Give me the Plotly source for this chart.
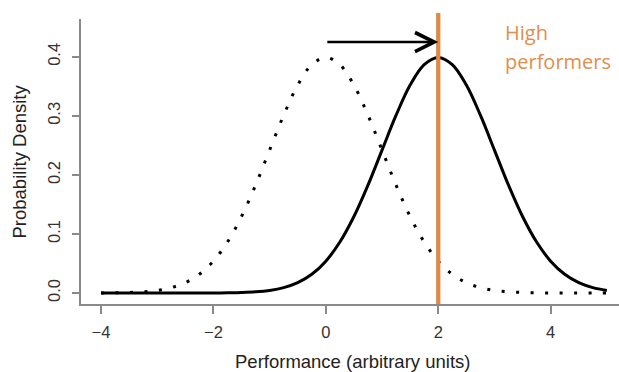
import plotly.graph_objects as go

# ---- data ----
x_vals = [-4, -3.75, -3.5, -3.25, -3, -2.75, -2.5, -2.25, -2, -1.75, -1.5, -1.25, -1,
          -0.75, -0.5, -0.25, 0, 0.25, 0.5, 0.75, 1, 1.25, 1.5, 1.75, 2, 2.25, 2.5,
          2.75, 3, 3.25, 3.5, 3.75, 4, 4.25, 4.5, 4.75, 5]
baseline_density = [0.0001, 0.0004, 0.0009, 0.0020, 0.0044, 0.0091, 0.0175, 0.0317,
                     0.0540, 0.0863, 0.1295, 0.1826, 0.2420, 0.3011, 0.3521, 0.3867,
                     0.3989, 0.3867, 0.3521, 0.3011, 0.2420, 0.1826, 0.1295, 0.0863,
                     0.0540, 0.0317, 0.0175, 0.0091, 0.0044, 0.0020, 0.0009, 0.0004,
                     0.0001, 0.0000, 0.0000, 0.0000, 0.0000]
shifted_density = [0.0000, 0.0000, 0.0000, 0.0000, 0.0000, 0.0000, 0.0000, 0.0000,
                   0.0001, 0.0004, 0.0009, 0.0020, 0.0044, 0.0091, 0.0175, 0.0317,
                   0.0540, 0.0863, 0.1295, 0.1826, 0.2420, 0.3011, 0.3521, 0.3867,
                   0.3989, 0.3867, 0.3521, 0.3011, 0.2420, 0.1826, 0.1295, 0.0863,
                   0.0540, 0.0317, 0.0175, 0.0091, 0.0044]
x_ticks = [-4, -2, 0, 2, 4]
y_ticks = [0.0, 0.1, 0.2, 0.3, 0.4]
y_tick_labels = ["0.0", "0.1", "0.2", "0.3", "0.4"]
threshold_x = 2
arrow_from_x = 0
arrow_to_x = 2
arrow_y = 0.425
label_lines = ["High", "performers"]

ORANGE = "#DE8A47"
TEXT_ORANGE = "#E08E4E"
AXIS_GREY = "#8a8a8a"
FONT = "Liberation Sans, Arial, sans-serif"

fig = go.Figure()
fig.add_trace(go.Scatter(
    x=x_vals, y=baseline_density, mode="lines",
    line=dict(color="black", width=3, dash="3px,11.5px", shape="spline"),
    showlegend=False, hoverinfo="skip"))
fig.add_trace(go.Scatter(
    x=x_vals, y=shifted_density, mode="lines",
    line=dict(color="black", width=3, shape="spline"),
    showlegend=False, hoverinfo="skip"))

fig.add_shape(type="line", xref="x", yref="paper", x0=threshold_x, x1=threshold_x,
              y0=0, y1=1.021, line=dict(color=ORANGE, width=4.3), layer="above")

fig.add_annotation(x=arrow_to_x, y=arrow_y, ax=arrow_from_x, ay=arrow_y,
                   xref="x", yref="y", axref="x", ayref="y", text="",
                   showarrow=True, arrowhead=5, arrowwidth=2.5, arrowsize=1.5,
                   arrowcolor="black")

# orange labels (positions in paper coordinates)
fig.add_annotation(text=label_lines[0], xref="paper", yref="paper",
                   x=(503 - 81) / 538, y=1 - (43 - 19) / 285, xanchor="left", yanchor="bottom",
                   showarrow=False, yshift=-5,
                   font=dict(family="Open Sans", size=20, color=TEXT_ORANGE))
fig.add_annotation(text=label_lines[1], xref="paper", yref="paper",
                   x=(503 - 81) / 538, y=1 - (72 - 19) / 285, xanchor="left", yanchor="bottom",
                   showarrow=False, yshift=-5,
                   font=dict(family="Open Sans", size=20, color=TEXT_ORANGE))

# axis titles
fig.add_annotation(text="Performance (arbitrary units)", xref="paper", yref="paper",
                   x=(352 - 81) / 538, y=1 - (361 - 19) / 285, xanchor="center", yanchor="middle",
                   showarrow=False, font=dict(family=FONT, size=18.5, color="#222"))
fig.add_annotation(text="Probability Density", xref="paper", yref="paper",
                   x=(19 - 81) / 538, y=0.5, xanchor="center", yanchor="middle",
                   textangle=-90, showarrow=False, font=dict(family=FONT, size=18.5, color="#222"))

fig.update_layout(
    width=619, height=372,
    margin=dict(l=81, r=0, t=19, b=68),
    paper_bgcolor="white", plot_bgcolor="white",
    xaxis=dict(range=[-4.356, 5.216], tickvals=x_ticks, showgrid=False, zeroline=False,
               showline=True, linecolor=AXIS_GREY, linewidth=1.5,
               ticks="outside", ticklen=8, tickwidth=1.5, tickcolor=AXIS_GREY,
               tickfont=dict(family=FONT, size=16.5, color="#333"), ticklabelstandoff=4),
    yaxis=dict(range=[-0.0186, 0.464], tickvals=y_ticks, ticktext=y_tick_labels,
               showgrid=False, zeroline=False,
               showline=True, linecolor=AXIS_GREY, linewidth=1.5,
               ticks="outside", ticklen=7, tickwidth=1.5, tickcolor=AXIS_GREY,
               tickangle=-90, tickfont=dict(family=FONT, size=16.5, color="#333"),
               ticklabelstandoff=6),
)

fig.write_html("out.html", config={"displayModeBar": False},
               post_script="document.body.style.margin='0';")
